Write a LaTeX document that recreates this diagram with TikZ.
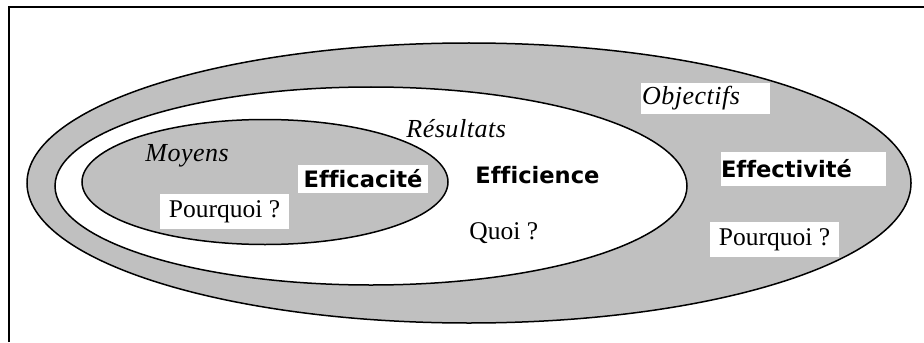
\documentclass[tikz,border=0pt]{standalone}
\usepackage{fontspec}
\setmainfont{Liberation Serif}[ItalicFeatures={LetterSpace=2}]
\setsansfont{DejaVu Sans}[Ligatures=NoCommon]
\usepackage{xcolor}
\definecolor{gris}{RGB}{192,192,192}

\tikzset{
	zone/.style={draw=black, line width=0.75pt},
	titre/.style={font=\sffamily\bfseries\fontsize{11.3}{13}\selectfont},
	mot/.style={font=\itshape\fontsize{13}{15}\selectfont, inner sep=0pt},
	question/.style={font=\fontsize{12.75}{15}\selectfont},
	etiquette/.style={fill=white, inner sep=0pt}
}

\begin{document}
\begin{tikzpicture}[x=0.5pt, y=-0.5pt]
			\useasboundingbox (0,0) rectangle (924,342);
			\draw[line width=1.1pt] (9,342) -- (9,7) -- (924,7);
			
			\draw[zone, fill=gris] (469,183) ellipse [x radius=221pt, y radius=70pt];
			\draw[zone, fill=white] (371,186) ellipse [x radius=158pt, y radius=49.5pt];
			\draw[zone, fill=gris] (265,182) ellipse [x radius=91.5pt, y radius=31.25pt];
			
			% ellipse interieure
			\node[mot, anchor=base west] (moyens) at (145,161) {Moyens};
			\node[titre, etiquette, minimum width=65pt, minimum height=14pt] (efficacite) at (363,179) {Efficacité};
			\node[question, etiquette, minimum width=64.5pt, minimum height=17.5pt] (pourquoiA) at (224.5,211.5) {Pourquoi ?};
			
			% ellipse du milieu
			\node[mot, anchor=base west] (resultats) at (406,137) {Résultats};
			\node[titre, inner sep=0pt, anchor=base west] (efficience) at (475,183) {Efficience};
			\node[question, inner sep=0pt, anchor=base west] (quoi) at (469,239) {Quoi ?};
			
			% ellipse exterieure
			\node[mot, etiquette, text width=63.5pt, inner xsep=0.5pt, align=left, minimum height=15.5pt] (objectifs) at (705.5,98.5) {Objectifs};
			\node[titre, etiquette, text width=82.5pt, align=left, minimum height=17pt] (effectivite) at (803.5,169) {Effectivité};
			\node[question, etiquette, minimum width=64.5pt, minimum height=17.5pt] (pourquoiB) at (774.5,239.5) {Pourquoi ?};
		\end{tikzpicture}
\end{document}
